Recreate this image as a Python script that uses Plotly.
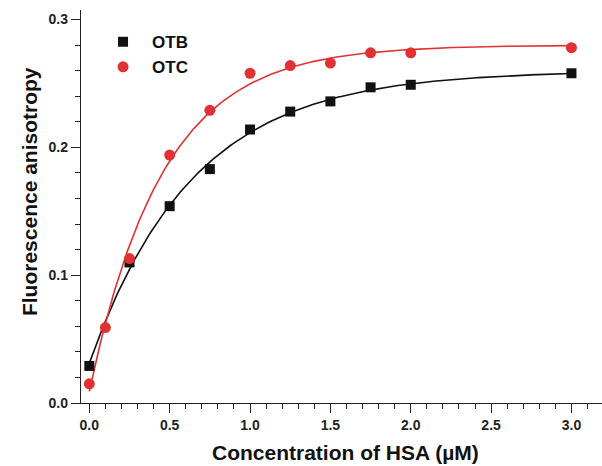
import numpy as np
import plotly.graph_objects as go

# HSA concentration (µM) and measured fluorescence anisotropy
otb_x = [0.0, 0.25, 0.5, 0.75, 1.0, 1.25, 1.5, 1.75, 2.0, 3.0]
otb_y = [0.029, 0.110, 0.154, 0.183, 0.214, 0.228, 0.236, 0.247, 0.249, 0.258]

otc_x = [0.0, 0.1, 0.25, 0.5, 0.75, 1.0, 1.25, 1.5, 1.75, 2.0, 3.0]
otc_y = [0.015, 0.059, 0.113, 0.194, 0.229, 0.258, 0.264, 0.266, 0.274, 0.274, 0.278]

x_ticks = [0.0, 0.5, 1.0, 1.5, 2.0, 2.5, 3.0]
y_ticks = [0.0, 0.1, 0.2, 0.3]

BLACK = "#111111"
RED = "#e03232"
FONT = "Liberation Sans, Arial, sans-serif"


def fit_saturation(x, y):
    """Least-squares fit of y = A - B*exp(-k*x); k by grid search, A,B linear."""
    x = np.asarray(x, float)
    y = np.asarray(y, float)
    best = None
    for k in np.linspace(0.2, 6.0, 5801):
        M = np.column_stack([np.ones_like(x), -np.exp(-k * x)])
        coef, *_ = np.linalg.lstsq(M, y, rcond=None)
        err = np.sum((M @ coef - y) ** 2)
        if best is None or err < best[0]:
            best = (err, coef[0], coef[1], k)
    _, a, b, k = best
    return lambda t: a - b * np.exp(-k * t)


xs = np.linspace(0.0, 3.0, 301)
otb_fit = fit_saturation(otb_x, otb_y)
otc_fit = fit_saturation(otc_x, otc_y)

fig = go.Figure()
fig.add_trace(go.Scatter(x=xs, y=otb_fit(xs), mode="lines",
                         line=dict(color=BLACK, width=1.6), showlegend=False,
                         hoverinfo="skip"))
fig.add_trace(go.Scatter(x=xs, y=otc_fit(xs), mode="lines",
                         line=dict(color=RED, width=1.6), showlegend=False,
                         hoverinfo="skip"))
fig.add_trace(go.Scatter(x=otb_x, y=otb_y, mode="markers", name="<b>OTB</b>",
                         marker=dict(symbol="square", size=10, color=BLACK)))
fig.add_trace(go.Scatter(x=otc_x, y=otc_y, mode="markers", name="<b>OTC</b>",
                         marker=dict(symbol="circle", size=11, color=RED)))

axis_common = dict(
    showline=True, linecolor="#222222", linewidth=1.3,
    showgrid=False, zeroline=False,
    ticks="outside", ticklen=9, tickwidth=1.2, tickcolor="#222222",
    tickfont=dict(family=FONT, size=14, color="#222222"),
)

title_font = dict(family=FONT, size=21, color="#111111")

fig.update_layout(
    width=602, height=466,
    margin=dict(l=81, r=0, t=10, b=63),
    paper_bgcolor="white", plot_bgcolor="white",
    font=dict(family=FONT, color="#111111"),
    xaxis=dict(
        axis_common, range=[-0.0517, 3.19],
        tickvals=x_ticks, ticktext=[f"<b>{v:.1f}</b>" for v in x_ticks],
        minor=dict(dtick=0.1, ticks="outside", ticklen=5, tickwidth=1.1,
                   tickcolor="#222222"),
    ),
    yaxis=dict(
        axis_common, range=[0, 0.3075],
        tickvals=y_ticks, ticktext=[f"<b>{v:.1f}</b>" for v in y_ticks],
        minor=dict(dtick=0.02, ticks="outside", ticklen=5, tickwidth=1.1,
                   tickcolor="#222222"),
    ),
    legend=dict(
        x=0.025, y=0.964, xanchor="left", yanchor="top",
        bgcolor="rgba(0,0,0,0)", borderwidth=0,
        font=dict(family=FONT, size=17, color="#111111"),
        itemwidth=48, tracegroupgap=0,
    ),
    showlegend=True,
    annotations=[
        dict(text="<b>Concentration of HSA (µM)</b>", xref="paper", yref="paper",
             x=0.508, y=-0.125, xanchor="center", yanchor="middle",
             showarrow=False, font=title_font),
        dict(text="<b>Fluorescence anisotropy</b>", xref="paper", yref="paper",
             x=-0.1, y=0.539, xanchor="center", yanchor="middle",
             textangle=-90, showarrow=False, font=title_font),
    ],
)

fig.write_html("out.html")
